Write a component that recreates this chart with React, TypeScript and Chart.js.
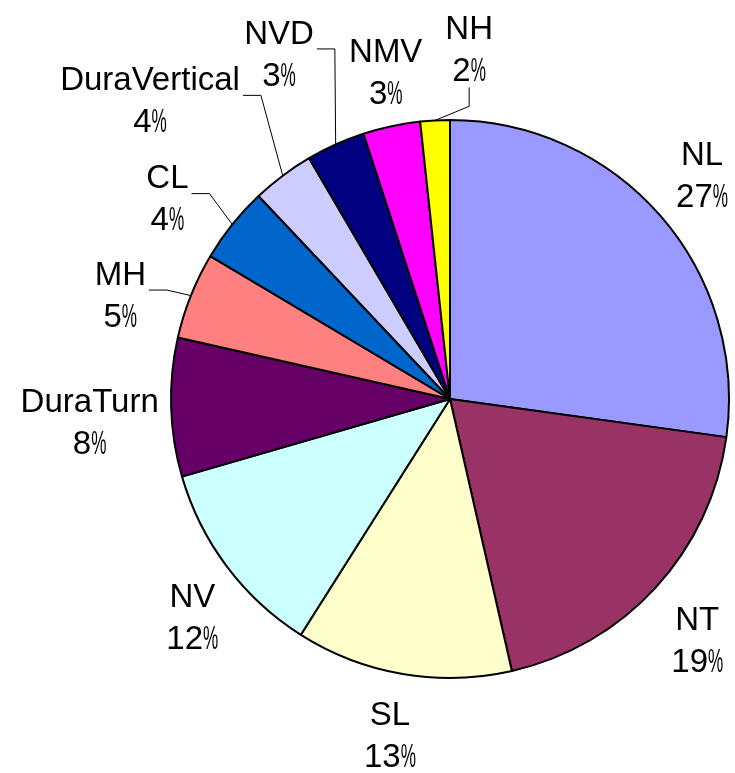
import React, { useEffect, useRef } from "react";
import { Chart, registerables } from "chart.js";

Chart.register(...registerables);

// ---- data ----
const CATEGORIES = ["NL", "NT", "SL", "NV", "DuraTurn", "MH", "CL", "DuraVertical", "NVD", "NMV", "NH"];
const VALUES = [27.1, 19.2, 12.5, 11.5, 8.0, 5.0, 4.4, 3.6, 3.4, 3.3, 1.7];
const COLORS = ["#9999FF", "#993366", "#FFFFCC", "#CCFFFF", "#660066", "#FF8080", "#0066CC", "#CCCCFF", "#000080", "#FF00FF", "#FFFF00"];

// ---- label layout (relative to each slice: extra radius px, angle shift deg, leader type) ----
const LABEL_EXTRA_R = [59, 66, 62, 58, 82, 67, 68, 145, 107, 55, 72];
const LABEL_SHIFT_DEG = [-0.7, 1.7, 0.4, -3.2, -1.8, -4.1, -3.25, -8.2, -2.1, 1.0, 6.2];
const LEADERS = ["", "", "", "", "", "side", "side", "side", "side", "", "below"];

const FONT_SIZE = 33;
const FONT = `${FONT_SIZE}px "Liberation Sans", Arial, sans-serif`;

const labelPlugin = {
  id: "sliceLabels",
  afterDatasetsDraw(chart: any) {
    const ctx = chart.ctx as CanvasRenderingContext2D;
    const meta = chart.getDatasetMeta(0);
    const total = VALUES.reduce((a, b) => a + b, 0);
    ctx.save();
    ctx.font = FONT;
    ctx.fillStyle = "#000";
    ctx.strokeStyle = "#000";
    ctx.lineWidth = 1;
    meta.data.forEach((arc: any, i: number) => {
      const { x, y, startAngle, endAngle, outerRadius } = arc.getProps(
        ["x", "y", "startAngle", "endAngle", "outerRadius"],
        true
      );
      const mid = (startAngle + endAngle) / 2;
      const a = mid + (LABEL_SHIFT_DEG[i] * Math.PI) / 180;
      const R = outerRadius + LABEL_EXTRA_R[i];
      const cx = x + R * Math.cos(a);
      const cy = y + R * Math.sin(a);
      const name = CATEGORIES[i];
      const pct = String(Math.round((VALUES[i] * 100) / total + 1e-9));
      const capHalf = FONT_SIZE * 0.358;
      const line1 = cy - 21;
      const line2 = cy + 21;

      ctx.textAlign = "center";
      ctx.textBaseline = "alphabetic";
      ctx.fillText(name, cx, line1 + capHalf);

      // percent line (narrow % sign like the original)
      const pScale = 0.52;
      const wd = ctx.measureText(pct).width;
      const wp = ctx.measureText("%").width * pScale;
      const sx0 = cx - (wd + wp) / 2;
      ctx.textAlign = "left";
      ctx.fillText(pct, sx0, line2 + capHalf);
      ctx.save();
      ctx.translate(sx0 + wd, line2 + capHalf);
      ctx.scale(pScale, 1);
      ctx.fillText("%", 0, 0);
      ctx.restore();

      const ex = x + outerRadius * Math.cos(mid);
      const ey = y + outerRadius * Math.sin(mid);
      if (LEADERS[i] === "side") {
        const w = Math.max(ctx.measureText(name).width, wd + wp);
        const sx = cx + w / 2 + 3;
        const sy = cy - 4;
        ctx.beginPath();
        ctx.moveTo(sx, sy);
        ctx.lineTo(sx + 18, sy);
        ctx.lineTo(ex, ey);
        ctx.stroke();
      } else if (LEADERS[i] === "below") {
        const sy = line2 + capHalf + 6;
        ctx.beginPath();
        ctx.moveTo(cx, sy);
        ctx.lineTo(cx, sy + 19);
        ctx.lineTo(ex, ey);
        ctx.stroke();
      }
    });
    ctx.restore();
  },
};

export default function App() {
  const ref = useRef<HTMLCanvasElement | null>(null);
  useEffect(() => {
    if (!ref.current) return;
    const chart = new Chart(ref.current, {
      type: "pie",
      data: {
        labels: CATEGORIES,
        datasets: [
          {
            data: VALUES,
            backgroundColor: COLORS,
            borderColor: "#000",
            borderWidth: 2,
          },
        ],
      },
      options: {
        animation: false,
        responsive: false,
        layout: { padding: { left: 170, right: 5, top: 119, bottom: 94 } },
        plugins: {
          legend: { display: false },
          tooltip: { enabled: false },
        },
      },
      plugins: [labelPlugin],
    });
    return () => chart.destroy();
  }, []);
  return (
    <div style={{ position: "absolute", left: 0, top: 0, width: 735, height: 773, background: "#fff" }}>
      <canvas ref={ref} width={735} height={773} style={{ display: "block" }} />
    </div>
  );
}
